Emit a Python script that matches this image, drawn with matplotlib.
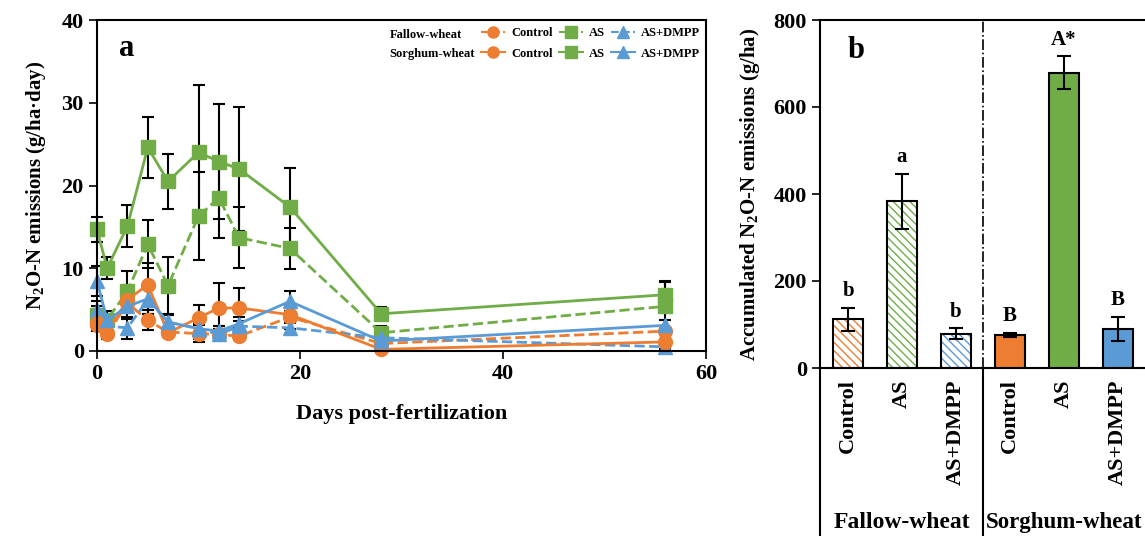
import matplotlib.pyplot as plt
from matplotlib.lines import Line2D
import matplotlib.transforms as mtransforms

plt.rcParams['font.family'] = ['Liberation Serif', 'DejaVu Serif']
plt.rcParams['font.weight'] = 'bold'
plt.rcParams['axes.labelweight'] = 'bold'
plt.rcParams['mathtext.default'] = 'bf'
plt.rcParams['hatch.linewidth'] = 1.0

# ---- data ----
days = [0, 1, 3, 5, 7, 10, 12, 14, 19, 28, 56]

fw_ctrl = [3.2, 2.0, 5.8, 3.7, 2.3, 2.1, 2.0, 1.8, 4.1, 0.9, 2.4]
fw_ctrl_err = [0.8, 0.6, 1.0, 1.2, 0.6, 1.0, 0.6, 0.5, 1.5, 0.3, 0.5]
sw_ctrl = [3.4, 2.2, 6.2, 8.0, 2.2, 4.0, 5.2, 5.2, 4.4, 0.2, 1.1]
sw_ctrl_err = [0.6, 0.5, 1.2, 2.6, 0.5, 1.6, 3.0, 2.4, 1.0, 0.2, 0.3]

fw_as = [4.4, 3.8, 7.2, 12.9, 7.9, 16.3, 18.5, 13.7, 12.4, 2.2, 5.4]
fw_as_err = [1.0, 1.0, 2.5, 2.9, 3.4, 5.3, 4.9, 3.7, 2.5, 0.8, 2.9]
sw_as = [14.7, 10.0, 15.1, 24.6, 20.5, 24.0, 22.9, 22.0, 17.4, 4.5, 6.8]
sw_as_err = [1.5, 1.3, 2.5, 3.7, 3.3, 8.1, 6.9, 7.5, 4.7, 0.8, 1.6]

fw_dmpp = [4.9, 3.0, 2.8, 6.2, 3.5, 2.7, 2.0, 3.0, 2.8, 1.6, 0.5]
fw_dmpp_err = [1.2, 0.7, 1.3, 1.7, 0.9, 1.2, 0.5, 0.6, 0.8, 0.3, 0.3]
sw_dmpp = [8.5, 3.7, 5.4, 6.3, 3.5, 2.7, 2.4, 3.3, 6.0, 1.2, 3.1]
sw_dmpp_err = [1.8, 0.8, 1.5, 1.8, 0.8, 0.7, 0.6, 0.8, 1.2, 0.3, 0.6]

treatments = ['Control', 'AS', 'AS+DMPP']
fw_total = [112, 383, 79]
fw_total_err = [27, 64, 12]
sw_total = [76, 679, 90]
sw_total_err = [5, 38, 28]
fw_letters = ['b', 'a', 'b']
sw_letters = ['B', 'A*', 'B']

orange = '#ED7D31'
green = '#70AD47'
blue = '#5B9BD5'
colors = [orange, green, blue]

fig = plt.figure(figsize=(11.45, 5.36), dpi=100)

# ---- panel a ----
ax = fig.add_axes([97 / 1145, 1 - 351 / 536, 609 / 1145, 331 / 536])

series = [
    (fw_ctrl, fw_ctrl_err, orange, 'o', '--'),
    (fw_as, fw_as_err, green, 's', '--'),
    (fw_dmpp, fw_dmpp_err, blue, '^', '--'),
    (sw_ctrl, sw_ctrl_err, orange, 'o', '-'),
    (sw_as, sw_as_err, green, 's', '-'),
    (sw_dmpp, sw_dmpp_err, blue, '^', '-'),
]
for vals, err, c, m, ls in series:
    ax.errorbar(days, vals, yerr=err, color=c, marker=m, ls=ls, lw=2,
                ms=10, mec=c, ecolor='black', elinewidth=1.5, capsize=4,
                capthick=1.5, clip_on=False)

ax.set_xlim(0, 60)
ax.set_ylim(0, 40)
ax.set_xticks([0, 20, 40, 60])
ax.set_yticks([0, 10, 20, 30, 40])
ax.tick_params(direction='out', length=6, width=1.2, labelsize=16)
for s in ax.spines.values():
    s.set_linewidth(1.5)
ax.set_xlabel('Days post-fertilization', fontsize=16, labelpad=14)
ax.set_ylabel('N$_\\mathregular{2}$O-N emissions (g/ha·day)', fontsize=15,
              labelpad=10)
ax.text(0.036, 0.89, 'a', transform=ax.transAxes, fontsize=22)

handles = []
for c, m in zip(colors, ['o', 's', '^']):
    handles.append(Line2D([], [], color=c, marker=m, ls='--', lw=1.5, ms=8))
    handles.append(Line2D([], [], color=c, marker=m, ls='-', lw=1.5, ms=8))
labels = ['Control', 'Control', 'AS', 'AS', 'AS+DMPP', 'AS+DMPP']
ax.legend(handles, labels, ncol=3, loc='upper right',
          bbox_to_anchor=(0.995, 0.985), frameon=False,
          prop={'size': 9, 'weight': 'bold'}, handlelength=1.9,
          handletextpad=0.5, columnspacing=0.5, labelspacing=0.65,
          borderpad=0.2, borderaxespad=0)
ax.text(0.48, 0.955, 'Fallow-wheat', transform=ax.transAxes, fontsize=9,
        va='center')
ax.text(0.48, 0.896, 'Sorghum-wheat', transform=ax.transAxes, fontsize=9,
        va='center')

# ---- panel b ----
bx = fig.add_axes([820 / 1145, 1 - 368 / 536, 325 / 1145, 348 / 536])
pos_fw = [0, 1, 2]
pos_sw = [3, 4, 5]
w = 0.56
bx.bar(pos_fw, fw_total, width=w, color='white', edgecolor=colors,
       hatch='\\\\\\\\', lw=0, zorder=2)
bx.bar(pos_fw, fw_total, width=w, fill=False, edgecolor='black', lw=1.5,
       zorder=3)
bx.bar(pos_sw, sw_total, width=w, color=colors, edgecolor='black', lw=1.5,
       zorder=3)
bx.errorbar(pos_fw + pos_sw, fw_total + sw_total,
            yerr=fw_total_err + sw_total_err, fmt='none', ecolor='black',
            elinewidth=1.5, capsize=5, capthick=1.5, zorder=4)
for p, v, e, t in zip(pos_fw + pos_sw, fw_total + sw_total,
                      fw_total_err + sw_total_err, fw_letters + sw_letters):
    bx.text(p, v + e + 15, t, ha='center', va='bottom', fontsize=15)

bx.set_xlim(-0.52, 5.5)
bx.set_ylim(0, 800)
bx.set_yticks([0, 200, 400, 600, 800])
bx.set_xticks(pos_fw + pos_sw)
bx.set_xticklabels(treatments * 2, rotation=90, fontsize=16)
bx.tick_params(axis='x', length=0, pad=8)
bx.tick_params(axis='y', direction='out', length=6, width=1.2, labelsize=16)
bx.spines['right'].set_visible(False)
for s in ['left', 'top', 'bottom']:
    bx.spines[s].set_linewidth(1.5)
bx.axvline(2.5, color='black', lw=1.2, ls='-.', zorder=1)
bx.set_ylabel('Accumulated N$_\\mathregular{2}$O-N emissions (g/ha)',
              fontsize=15, labelpad=8)
bx.text(0.085, 0.89, 'b', transform=bx.transAxes, fontsize=22)

trans = mtransforms.blended_transform_factory(bx.transData, bx.transAxes)
for xline in [-0.52, 2.5]:
    bx.plot([xline, xline], [0, -0.5], color='black', lw=1.5,
            transform=trans, clip_on=False)
bx.text(1, -0.445, 'Fallow-wheat', transform=trans, ha='center',
        va='center', fontsize=17)
bx.text(2.56, -0.445, 'Sorghum-wheat', transform=trans, ha='left',
        va='center', fontsize=16.5)

fig.savefig('out.png', dpi=100)
